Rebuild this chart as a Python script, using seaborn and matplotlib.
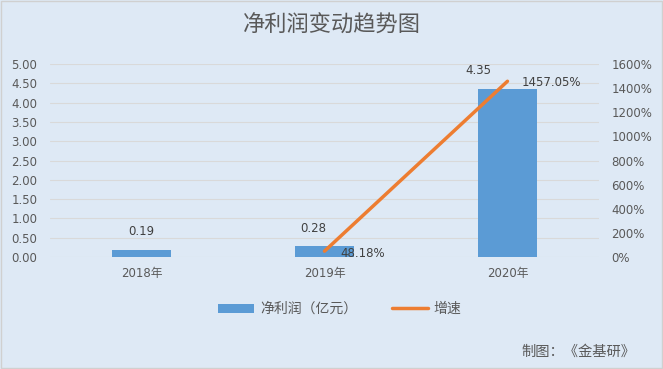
import pandas as pd
import matplotlib.pyplot as plt
import seaborn as sns

# Datos del gráfico
years = ['2018年', '2019年', '2020年']
profit = [0.19, 0.28, 4.35]
growth_years = ['2019年', '2020年']
growth = [48.18, 1457.05]

sns.set_style('white')
plt.rcParams['font.family'] = ['DejaVu Sans', 'Noto Sans CJK SC']
cjk = ['Noto Sans CJK SC', 'DejaVu Sans']

bg = '#DEE9F5'
txt = '#595959'
lab = '#404040'

fig = plt.figure(figsize=(6.63, 3.69), dpi=100, facecolor=bg)
ax = fig.add_axes([0.0754, 0.3035, 0.828, 0.523])
ax.set_facecolor(bg)

data = pd.DataFrame({'year': years, 'profit': profit})
sns.barplot(data=data, x='year', y='profit', color='#5B9BD5', width=0.32,
            saturation=1, linewidth=0, ax=ax, label='净利润（亿元）', zorder=2)
ax.set_ylim(0, 5)
ax.set_yticks([i * 0.5 for i in range(11)])
ax.set_yticklabels([f'{i * 0.5:.2f}' for i in range(11)])
ax.grid(axis='y', color='#D9D9D9', linewidth=0.8, zorder=0)
ax.set_axisbelow(True)
ax.set_xlabel('')
ax.set_ylabel('')
ax.set_xlim(-0.5, 2.5)
for s in ax.spines.values():
    s.set_visible(False)
ax.tick_params(axis='both', length=0, labelsize=8.5, colors=txt)
ax.tick_params(axis='y', pad=9)
ax.tick_params(axis='x', pad=7)

# Etiquetas de las barras (desplazadas como en el original)
shift = [0, -0.06, -0.16]
for i, v in enumerate(profit):
    ax.text(i + shift[i], v + 0.47, f'{v:.2f}', ha='center', va='center', fontsize=8.5, color=lab)

# Eje secundario: tasa de crecimiento
ax2 = ax.twinx()
gx = [years.index(y) for y in growth_years]
gdata = pd.DataFrame({'x': gx, 'growth': growth})
sns.lineplot(data=gdata, x='x', y='growth', color='#ED7D31', linewidth=2.5,
             ax=ax2, label='增速')
ax2.set_ylim(0, 1600)
ax2.set_yticks(range(0, 1601, 200))
ax2.set_yticklabels([f'{v}%' for v in range(0, 1601, 200)])
ax2.set_ylabel('')
ax2.set_xlabel('')
ax2.set_xlim(-0.5, 2.5)
for s in ax2.spines.values():
    s.set_visible(False)
ax2.tick_params(axis='both', length=0, labelsize=8.5, colors=txt, pad=9)
ax2.get_legend().remove()

ax2.text(gx[0] + 0.087, growth[0] - 18, f'{growth[0]:.2f}%', ha='left', va='center',
         fontsize=8.5, color=lab)
ax2.text(gx[1] + 0.077, growth[1] - 8, f'{growth[1]:.2f}%', ha='left', va='center',
         fontsize=8.5, color=lab)

# Leyenda
h1, l1 = ax.get_legend_handles_labels()
h2, l2 = ax2.get_legend_handles_labels()
ax.legend(h1 + h2, l1 + l2, loc='center', bbox_to_anchor=(0.528, -0.27), ncol=2,
          frameon=False, prop={'family': cjk, 'size': 10}, labelcolor=txt,
          handlelength=2.6, handleheight=0.6, handletextpad=0.4, columnspacing=2.5)

fig.text(0.5, 0.932, '净利润变动趋势图', ha='center', va='center', fontsize=16,
         color=txt, family=cjk)
fig.text(0.958, 0.046, '制图：《金基研》', ha='right', va='center', fontsize=10.3,
         color=txt, family=cjk)

# Borde
fig.patches.append(plt.Rectangle((0.002, 0.003), 0.996, 0.994, transform=fig.transFigure,
                                 fill=False, edgecolor='#D0D0D0', linewidth=1))

plt.savefig('out.png', facecolor=bg)
